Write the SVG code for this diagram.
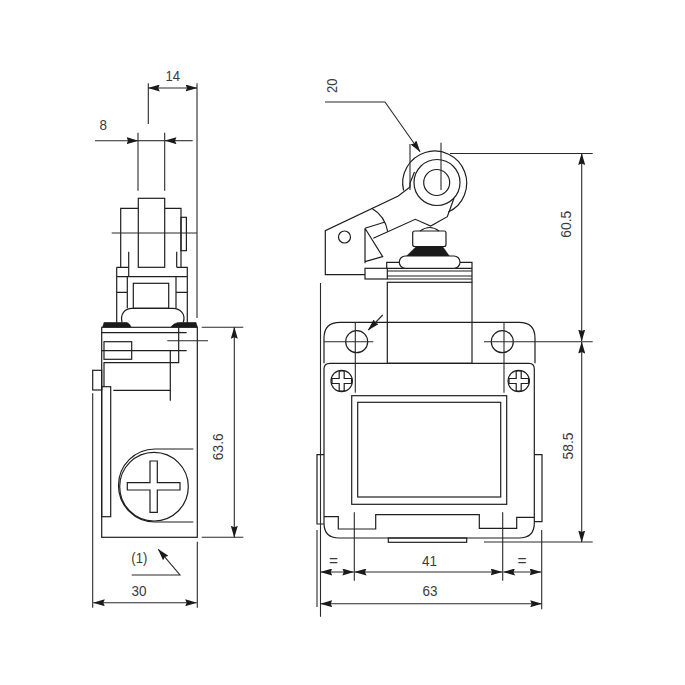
<svg xmlns="http://www.w3.org/2000/svg" width="685" height="685" viewBox="0 0 685 685">
<defs>
<marker id="a" markerUnits="userSpaceOnUse" markerWidth="12" markerHeight="7" refX="11.5" refY="3.5" orient="auto-start-reverse"><path d="M0,0 L12,3.5 L0,7 L1.5,3.5z" fill="#1a1a1a"/></marker>
</defs>
<style>
.l{fill:none;stroke:#1f1f1f;stroke-width:1.2}
.w{fill:#fff;stroke:#1f1f1f;stroke-width:1.2}
.k{fill:#1a1a1a;stroke:#1a1a1a;stroke-width:.6}
.d{fill:none;stroke:#2a2a2a;stroke-width:1.1}
.e{fill:none;stroke:#2a2a2a;stroke-width:1.1;marker-start:url(#a);marker-end:url(#a)}
.h{fill:none;stroke:#2a2a2a;stroke-width:1.1;marker-end:url(#a)}
text{font-family:"Liberation Sans",Arial,sans-serif;font-size:15.5px;fill:#3a3a3a;text-anchor:middle}
</style>
<rect width="685" height="685" fill="#fff"/>

<g id="side-view">
<path class="k" d="M102.7,327 L104,322.5 H127 Q130,323.5 131,327 Z"/>
<path class="k" d="M171,327 Q174,322.5 180,322.5 H196 L197.3,327 Z"/>
<path class="l" d="M120.7,267.3 V208.3 H138.3 M164.7,208.3 H181 V267.3"/>
<rect class="l" x="138.3" y="198.3" width="26.4" height="69"/>
<rect class="l" x="181" y="217.3" width="5.4" height="33.4"/>
<path class="l" d="M128.7,251.7 V276.7 M176.7,251.7 V267.3"/>
<path class="l" d="M116.7,267.3 H128.7 M176.7,267.3 H187.3 V323 M116.7,267.3 V323 M116.7,276.7 H187.3 M127.3,276.7 V308.3 M176,276.7 V308.3 M116.7,292.3 H127.3 M176,292.3 H187.3"/>
<rect class="l" x="133.3" y="283.3" width="35.4" height="25"/>
<path class="l" d="M122,322.5 C120,314 125,308.3 132,308.3 H173 C180,308.3 186,314 183.3,322.5"/>
<rect class="l" x="101.7" y="327.3" width="95.6" height="210"/>
<path class="l" d="M101.7,332.7 H186.7 M101.7,350.7 H186.7 M178.7,327.3 V362.7 H104 V386.7 M170.3,350.7 V400.7 M113.3,390.3 H170.3"/>
<rect class="l" x="104" y="341.7" width="27.7" height="17.6"/>
<rect class="l" x="101.7" y="386.7" width="9" height="130"/>
<rect class="l" x="92.7" y="370.3" width="9" height="19.7"/>
<path class="l" d="M193.3,449 H155 A36.5,36.5 0 0 0 155,522 H193.3"/>
<circle class="w" cx="154" cy="486.7" r="34.3"/>
<path class="l" d="M150,482.7 V461 H157.3 V482.7 H180 V490 H157.3 V512.3 H150 V490 H127.3 V482.7 Z"/>
</g>

<g id="front-view">
<path class="l" d="M324,363.3 V338 Q324,322.3 340,322.3 H519 Q535,322.3 535,338 V363.3"/>
<path class="l" d="M324,516.7 V369 Q324,363.3 330,363.3 H529 Q534.3,363.3 534.3,369 V523 Q534.3,538 519,538 H339 Q324,538 324,523 Z"/>
<rect class="l" x="387.3" y="282.3" width="84.7" height="81"/>
<path class="l" d="M387.3,271 H472 M387.3,276 H472 M387.3,279 H472 M386.7,268.3 V262.3 H399.5 M460,262.3 H472 V282.3"/>
<rect class="l" x="365" y="268.3" width="22.3" height="10.7"/>
<path class="l" d="M387.3,268.3 H472"/>
<circle class="l" cx="356.7" cy="341.7" r="11"/>
<circle class="l" cx="502.3" cy="341.7" r="11"/>
<circle class="l" cx="341.7" cy="381" r="10.7"/>
<path class="l" d="M339.2,371 H344.2 V378.5 H351.5 V383.5 H344.2 V391 H339.2 V383.5 H332 V378.5 H339.2 Z"/>
<circle class="l" cx="518.7" cy="381" r="10.7"/>
<path class="l" d="M516.2,371 H521.2 V378.5 H528.5 V383.5 H521.2 V391 H516.2 V383.5 H509 V378.5 H516.2 Z"/>
<rect class="l" x="351.7" y="395.7" width="155" height="108.6"/>
<rect class="l" x="357.7" y="402.3" width="143" height="94.7"/>
<path class="l" d="M324,516.7 H338.3 V529 H375.7 V514.7 H479.3 V528.3 H516.7 V517.3 H534.3"/>
<rect class="l" x="388.3" y="538" width="78.4" height="4.3"/>
<path class="l" d="M324,454.7 H317 V524 H324 M534.6,454.7 H542 V521.7 H534.6"/>
</g>

<g id="roller-lever">
<path class="l" d="M403.6,190.5 A32,32 0 1 1 448.3,212"/>
<circle class="l" cx="437" cy="182.5" r="23"/>
<circle class="l" cx="436.7" cy="182.5" r="13"/>
<path class="l" d="M414.5,172 L410,183 V187 L398.3,196 L325.3,230.7 V274.7 H365"/>
<path class="l" d="M454,198.3 L447.3,216.7 L430.7,226 L415.3,219.3 L373.3,238.3"/>
<path class="l" d="M371.7,208.3 Q385,216 387.7,231.7 M365,228.3 L384.3,222.3 M365,228.3 L382.7,256.7 L365,261.7 M365,228.3 V263.3"/>
<circle class="l" cx="344.5" cy="237" r="6"/>
<path class="l" d="M420,231 Q430,224 439,231"/>
<rect class="l" x="412.7" y="231" width="33.3" height="15.5" rx="2"/>
<path class="k" d="M416,246.7 H442.7 L449.3,256 H406.7 Z"/>
<rect class="w" x="399.3" y="256" width="60.7" height="12.3" rx="6"/>
</g>

<g id="connectors">
<path class="d" d="M148.3,83.3 V124 M197,83.3 V318 M197.3,541.7 V607.7 M138,132.7 V190.7 M164.7,132.7 V190.7 M111.7,233 H197"/>
<path class="e" d="M148.3,88 H197"/>
<path class="h" d="M95,140.7 H138"/>
<path class="d" d="M138,140.7 H164.7"/>
<path class="h" d="M192.7,140.7 H165"/>
<path class="d" d="M167.3,340.7 H208 M201.7,327.3 H243.3 M201.7,537.3 H243.3 M92.7,393.3 V607.7"/>
<path class="e" d="M234.3,327.3 V537.3"/>
<path class="h" d="M131.7,575 H180 L158.3,549.3"/>
<path class="e" d="M93.3,602.7 H196.7"/>
<path class="h" d="M325,102 H385 L420,151.7"/>
<path class="d" d="M410,144 V190 M441,142.7 V190 M450,153.5 H592.7 M324,341.7 H373.3 M484,341.7 H592.7 M355.3,322.3 V392.7 M504,322.3 V392.7 M484,542 H592.7"/>
<path class="h" d="M382.7,315 L368.3,330"/>
<path class="e" d="M581.7,153.5 V341"/>
<path class="e" d="M581.7,342 V542"/>
<path class="d" d="M320.5,283 V616.7 M317,530 V607 M541.7,530 V609.3 M354.3,512.3 V580.7 M502.7,512.3 V580.7"/>
<path class="e" d="M320.7,572 H353.8"/>
<path class="e" d="M355,572 H502"/>
<path class="e" d="M503.5,572 H541"/>
<path class="e" d="M320.7,603.7 H541.7"/>
</g>

<g id="labels">
<text x="172.7" y="80.5" textLength="14.5" lengthAdjust="spacingAndGlyphs">14</text>
<text x="103.3" y="130" textLength="7.5" lengthAdjust="spacingAndGlyphs">8</text>
<text x="139.3" y="563" textLength="16" lengthAdjust="spacingAndGlyphs">(1)</text>
<text x="139" y="595.5" textLength="15" lengthAdjust="spacingAndGlyphs">30</text>
<text x="429.5" y="565.5" textLength="15" lengthAdjust="spacingAndGlyphs">41</text>
<text x="430" y="595.5" textLength="15" lengthAdjust="spacingAndGlyphs">63</text>
<text x="333.5" y="565.5">=</text>
<text x="522" y="565.5">=</text>
<text transform="translate(222.5 446.7) rotate(-90)" textLength="27" lengthAdjust="spacingAndGlyphs">63.6</text>
<text transform="translate(337 85.7) rotate(-90)" textLength="14.5" lengthAdjust="spacingAndGlyphs">20</text>
<text transform="translate(570.5 224.3) rotate(-90)" textLength="27" lengthAdjust="spacingAndGlyphs">60.5</text>
<text transform="translate(572.5 446) rotate(-90)" textLength="27" lengthAdjust="spacingAndGlyphs">58.5</text>
</g>
</svg>
